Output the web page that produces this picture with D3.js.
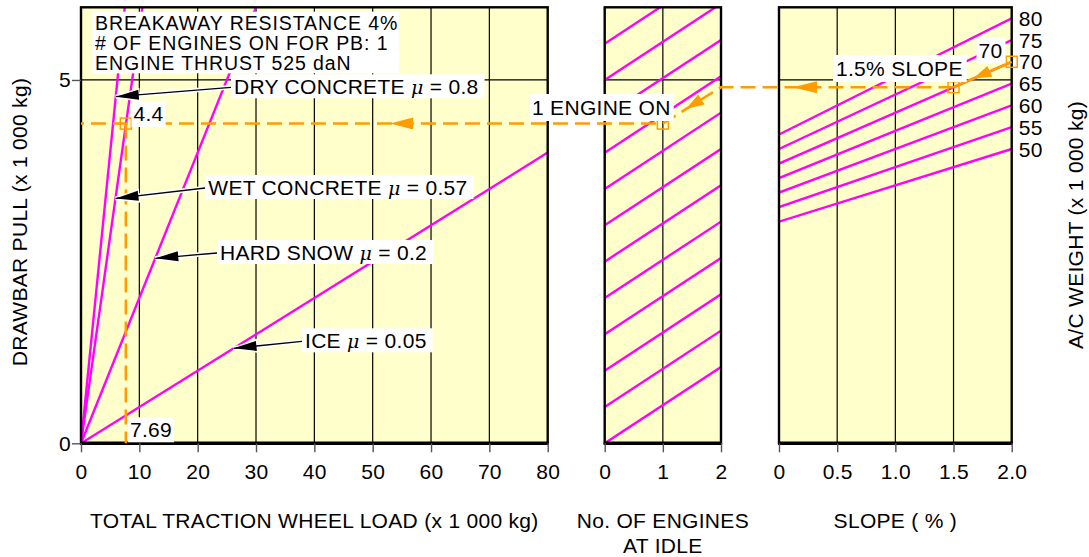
<!DOCTYPE html>
<html><head><meta charset="utf-8">
<script src="https://cdn.jsdelivr.net/npm/d3@7"></script>
<style>
html,body{margin:0;padding:0;background:#fff;}
svg{display:block;}
text{font-family:'Liberation Sans',Arial,Helvetica,sans-serif;font-size:21px;fill:#000;letter-spacing:0.3px;}
</style></head><body>
<svg id="chart" width="1089" height="557"></svg>
<script>
// ---- data ----
// friction lines: drawbar pull = mu x total traction wheel load
const surfaces = ["DRY CONCRETE", "WET CONCRETE", "HARD SNOW", "ICE"];
const frictionCoefs = [0.8, 0.57, 0.2, 0.05];
const frictionLabels = ["0.8", "0.57", "0.2", "0.05"];
const loadTicks = [0, 10, 20, 30, 40, 50, 60, 70, 80];
const pullTicks = [0, 5];
const engineTicks = [0, 1, 2];
const slopeTicks = [0, 0.5, 1.0, 1.5, 2.0];
// engine guide lines (drawbar pull at 0 and 2 engines at idle)
const guideAt0 = [0, 0.5, 1.0, 1.5, 2.0, 2.5, 3.0, 3.5, 4.0, 4.5, 5.0, 5.5];
const guideAt2 = [1.05, 1.55, 2.05, 2.55, 3.05, 3.55, 4.05, 4.55, 5.05, 5.55, 6.05, 6.55];
// aircraft weight lines (drawbar pull at 0 % and 2 % slope)
const weights = [50, 55, 60, 65, 70, 75, 80];
const pullAtSlope0 = [3.05, 3.25, 3.45, 3.65, 3.85, 4.05, 4.25];
const pullAtSlope2 = [4.05, 4.35, 4.65, 4.95, 5.25, 5.55, 5.85];
// worked example
const exWeight = 70;
const exSlope = 1.5;
const exPullSlope = 4.9;
const exEngines = 1;
const exPullEngines = 4.4;
const exLoad = 7.69;
const notes = ["BREAKAWAY RESISTANCE 4%", "# OF ENGINES ON FOR PB: 1", "ENGINE THRUST 525 daN"];

// ---- layout ----
const TOP = 7.3, BOTTOM = 443.3;
const P1 = [81, 547.7], P2 = [604.7, 721], P3 = [779, 1011.7];
const MAGENTA = "#ff00ff", ORANGE = "#ff9c00", PANEL = "#ffffcc";

const svg = d3.select("#chart");
const y = d3.scaleLinear().domain([0, 6]).range([BOTTOM, TOP]);
const xLoad = d3.scaleLinear().domain([0, 80]).range(P1);
const xEng = d3.scaleLinear().domain([0, 2]).range(P2);
const xSlope = d3.scaleLinear().domain([0, 2]).range(P3);

const panels = [
  {id: "p1", x: xLoad, ticks: loadTicks, fmt: d => String(d)},
  {id: "p2", x: xEng, ticks: engineTicks, fmt: d => String(d)},
  {id: "p3", x: xSlope, ticks: slopeTicks, fmt: d => d === 0 ? "0" : d3.format(".1f")(d)}
];

const defs = svg.append("defs");
panels.forEach(p => {
  const [a, b] = p.x.range();
  defs.append("clipPath").attr("id", "clip-" + p.id)
    .append("rect").attr("x", a).attr("y", TOP).attr("width", b - a).attr("height", BOTTOM - TOP);
});

// backgrounds and grid
panels.forEach(p => {
  const [a, b] = p.x.range();
  const g = svg.append("g");
  g.append("rect").attr("x", a).attr("y", TOP).attr("width", b - a).attr("height", BOTTOM - TOP)
    .attr("fill", PANEL);
  g.selectAll("line.v").data(p.ticks.slice(1, -1)).join("line")
    .attr("x1", d => p.x(d)).attr("x2", d => p.x(d)).attr("y1", TOP).attr("y2", BOTTOM)
    .attr("stroke", "#000").attr("stroke-width", 1.2);
  g.selectAll("line.h").data(pullTicks.slice(1)).join("line")
    .attr("x1", a).attr("x2", b).attr("y1", d => y(d)).attr("y2", d => y(d))
    .attr("stroke", "#000").attr("stroke-width", 1.2);
});

// friction lines
const g1 = svg.append("g").attr("clip-path", "url(#clip-p1)");
g1.selectAll("line").data(frictionCoefs).join("line")
  .attr("x1", xLoad(0)).attr("y1", y(0))
  .attr("x2", xLoad(80)).attr("y2", d => y(d * 80))
  .attr("stroke", MAGENTA).attr("stroke-width", 2.4);

// engine guide lines
const g2 = svg.append("g").attr("clip-path", "url(#clip-p2)");
g2.selectAll("line").data(guideAt0).join("line")
  .attr("x1", xEng(0)).attr("y1", d => y(d))
  .attr("x2", xEng(2)).attr("y2", (d, i) => y(guideAt2[i]))
  .attr("stroke", MAGENTA).attr("stroke-width", 2.4);

// weight lines
const g3 = svg.append("g").attr("clip-path", "url(#clip-p3)");
g3.selectAll("line").data(weights).join("line")
  .attr("x1", xSlope(0)).attr("y1", (d, i) => y(pullAtSlope0[i]))
  .attr("x2", xSlope(2)).attr("y2", (d, i) => y(pullAtSlope2[i]))
  .attr("stroke", MAGENTA).attr("stroke-width", 2.4);

// frames
panels.forEach(p => {
  const [a, b] = p.x.range();
  svg.append("rect").attr("x", a).attr("y", TOP).attr("width", b - a).attr("height", BOTTOM - TOP)
    .attr("fill", "none").attr("stroke", "#000").attr("stroke-width", 2.4);
  svg.append("line").attr("x1", a - 1).attr("x2", b + 1).attr("y1", BOTTOM).attr("y2", BOTTOM)
    .attr("stroke", "#000").attr("stroke-width", 3.4);
});

// axes
panels.forEach(p => {
  const ax = svg.append("g").attr("transform", `translate(0,${BOTTOM})`)
    .call(d3.axisBottom(p.x).tickValues(p.ticks).tickFormat(p.fmt).tickSize(9).tickPadding(12));
  ax.select(".domain").remove();
  ax.selectAll(".tick line").attr("stroke", "#555").attr("stroke-width", 1.4);
  ax.selectAll("text").style("font-size", "21px").attr("fill", "#000");
});
const axL = svg.append("g").attr("transform", `translate(${P1[0]},0)`)
  .call(d3.axisLeft(y).tickValues(pullTicks).tickFormat(d3.format("d")).tickSize(9).tickPadding(1));
axL.select(".domain").remove();
axL.selectAll(".tick line").attr("stroke", "#555").attr("stroke-width", 1.4);
axL.selectAll("text").style("font-size", "21px").attr("fill", "#000");

// axis titles
svg.append("text").attr("x", (P1[0] + P1[1]) / 2).attr("y", 528).attr("text-anchor", "middle")
  .text("TOTAL TRACTION WHEEL LOAD (x 1 000 kg)");
svg.append("text").attr("x", (P2[0] + P2[1]) / 2).attr("y", 528).attr("text-anchor", "middle")
  .text("No. OF ENGINES");
svg.append("text").attr("x", (P2[0] + P2[1]) / 2).attr("y", 553).attr("text-anchor", "middle")
  .text("AT IDLE");
svg.append("text").attr("x", (P3[0] + P3[1]) / 2).attr("y", 528).attr("text-anchor", "middle")
  .text("SLOPE ( % )");
svg.append("text").attr("transform", "translate(27,222) rotate(-90)").attr("text-anchor", "middle")
  .text("DRAWBAR PULL (x 1 000 kg)");
svg.append("text").attr("transform", "translate(1083,225) rotate(-90)").attr("text-anchor", "middle")
  .text("A/C WEIGHT (x 1 000 kg)");

// weight labels at the right end of each line
svg.append("g").selectAll("text").data(weights).join("text")
  .attr("x", P3[1] + 7).attr("y", (d, i) => y(pullAtSlope2[i])).attr("dy", "0.36em")
  .text(d => d);

// ---- worked example (orange) ----
function head(g, tip, from, len, hw, fill, stroke, sw) {
  let dx = tip[0] - from[0], dy = tip[1] - from[1];
  const n = Math.hypot(dx, dy); dx /= n; dy /= n;
  const bx = tip[0] - dx * len, by = tip[1] - dy * len;
  const pts = [tip, [bx - dy * hw, by + dx * hw], [bx + dy * hw, by - dx * hw]];
  g.append("polygon").attr("points", pts.map(p => p.join(",")).join(" "))
    .attr("fill", fill).attr("stroke", stroke || "none").attr("stroke-width", sw || 0);
}
const lerp = (a, b, t) => [a[0] + (b[0] - a[0]) * t, a[1] + (b[1] - a[1]) * t];

const wIdx = weights.indexOf(exWeight);
const pW = [xSlope(2), y(pullAtSlope2[wIdx])];
const pS = [xSlope(exSlope), y(exPullSlope)];
const pE2 = [xEng(2), y(exPullSlope)];
const pE1 = [xEng(exEngines), y(exPullEngines)];
const pL0 = [xLoad(0), y(exPullEngines)];
const pL = [xLoad(exLoad), y(exPullEngines)];
const pL00 = [xLoad(exLoad), y(0)];

const og = svg.append("g");
og.append("path").attr("d", d3.line()([pS, pE2, pE1, pL0]))
  .attr("fill", "none").attr("stroke", ORANGE).attr("stroke-width", 2.6).attr("stroke-dasharray", "15,7");
og.append("path").attr("d", d3.line()([pL, pL00]))
  .attr("fill", "none").attr("stroke", ORANGE).attr("stroke-width", 2.6).attr("stroke-dasharray", "15,7");
og.append("path").attr("d", d3.line()([pW, pS]))
  .attr("fill", "none").attr("stroke", ORANGE).attr("stroke-width", 2.6);
head(og, lerp(pW, pS, 0.66), pW, 18, 6, ORANGE);
head(og, [xSlope(0.12), pS[1]], pS, 24, 6, ORANGE);
head(og, lerp(pE2, pE1, 0.6), pE2, 18, 6, ORANGE);
head(og, [xLoad(53), pL[1]], pE1, 23, 6, ORANGE);
[pW, pS, pE1, pL].forEach(p => {
  og.append("rect").attr("x", p[0] - 5.5).attr("y", p[1] - 5.5).attr("width", 11).attr("height", 11)
    .attr("fill", "none").attr("stroke", ORANGE).attr("stroke-width", 1.5);
});

// ---- labels ----
function boxLabel(x, yb, parts, pad) {
  const g = svg.append("g");
  const r = g.append("rect").attr("fill", "#fff");
  const t = g.append("text").attr("x", x).attr("y", yb);
  parts.forEach(p => {
    const s = t.append("tspan").text(p.t);
    if (p.i) s.style("font-style", "italic").style("font-family", "'DejaVu Serif',serif").style("font-size", "19px");
  });
  const b = t.node().getBBox();
  const [l, r2, tp, bt] = pad || [3, 6, 1, 0];
  r.attr("x", b.x - l).attr("y", b.y - tp).attr("width", b.width + l + r2).attr("height", b.height + tp + bt);
  return {g, box: {x: b.x - l, y: b.y - tp, w: b.width + l + r2, h: b.height + tp + bt}};
}

// notes block
(function () {
  const g = svg.append("g");
  const r = g.append("rect").attr("fill", "#fff");
  const t = g.selectAll("text").data(notes).join("text")
    .attr("x", 95).attr("y", (d, i) => 29.5 + i * 20)
    .style("font-size", "19.5px").style("letter-spacing", "0.9px").text(d => d);
  let x0 = 1e9, x1 = -1e9;
  t.each(function () { const b = this.getBBox(); x0 = Math.min(x0, b.x); x1 = Math.max(x1, b.x + b.width); });
  r.attr("x", x0 - 3).attr("y", 11.7).attr("width", x1 - x0 + 4).attr("height", 61.6);
})();

// surface labels with leader arrows
const surfLayout = [
  {x: 234, yb: 94.3, tipPull: 4.77},
  {x: 208.3, yb: 195, tipPull: 3.37},
  {x: 220, yb: 260, tipPull: 2.546},
  {x: 305, yb: 348.3, tipPull: 1.307}
];
surfaces.forEach((s, i) => {
  const L = surfLayout[i];
  const tip = [xLoad(L.tipPull / frictionCoefs[i]), y(L.tipPull)];
  const lab = boxLabel(L.x, L.yb, [{t: s + " "}, {t: "μ", i: true}, {t: " = " + frictionLabels[i]}]);
  const start = [lab.box.x, lab.box.y + lab.box.h / 2 + 1];
  const ag = svg.append("g");
  ag.append("line").attr("x1", start[0]).attr("y1", start[1]).attr("x2", tip[0]).attr("y2", tip[1])
    .attr("stroke", "#fff").attr("stroke-width", 4.5);
  head(ag, tip, start, 23, 5.5, "#000", "#fff", 2.5);
  ag.append("line").attr("x1", start[0]).attr("y1", start[1]).attr("x2", tip[0]).attr("y2", tip[1])
    .attr("stroke", "#000").attr("stroke-width", 1.3);
  head(ag, tip, start, 23, 5, "#000");
  lab.g.raise();
});

boxLabel(133.5, 121, [{t: String(exPullEngines)}], [2, 2, 1, 2]);
boxLabel(130, 437.3, [{t: String(exLoad)}], [2, 2, 1, 1]);
boxLabel(532, 115, [{t: exEngines + " ENGINE ON"}], [2, 3, 2, 2]);
boxLabel(836, 76, [{t: exSlope + "% SLOPE"}], [3, 4, 2, 2]);
boxLabel(978.5, 58.3, [{t: String(exWeight)}], [2, 3, 2, 1]);
</script>
</body></html>
